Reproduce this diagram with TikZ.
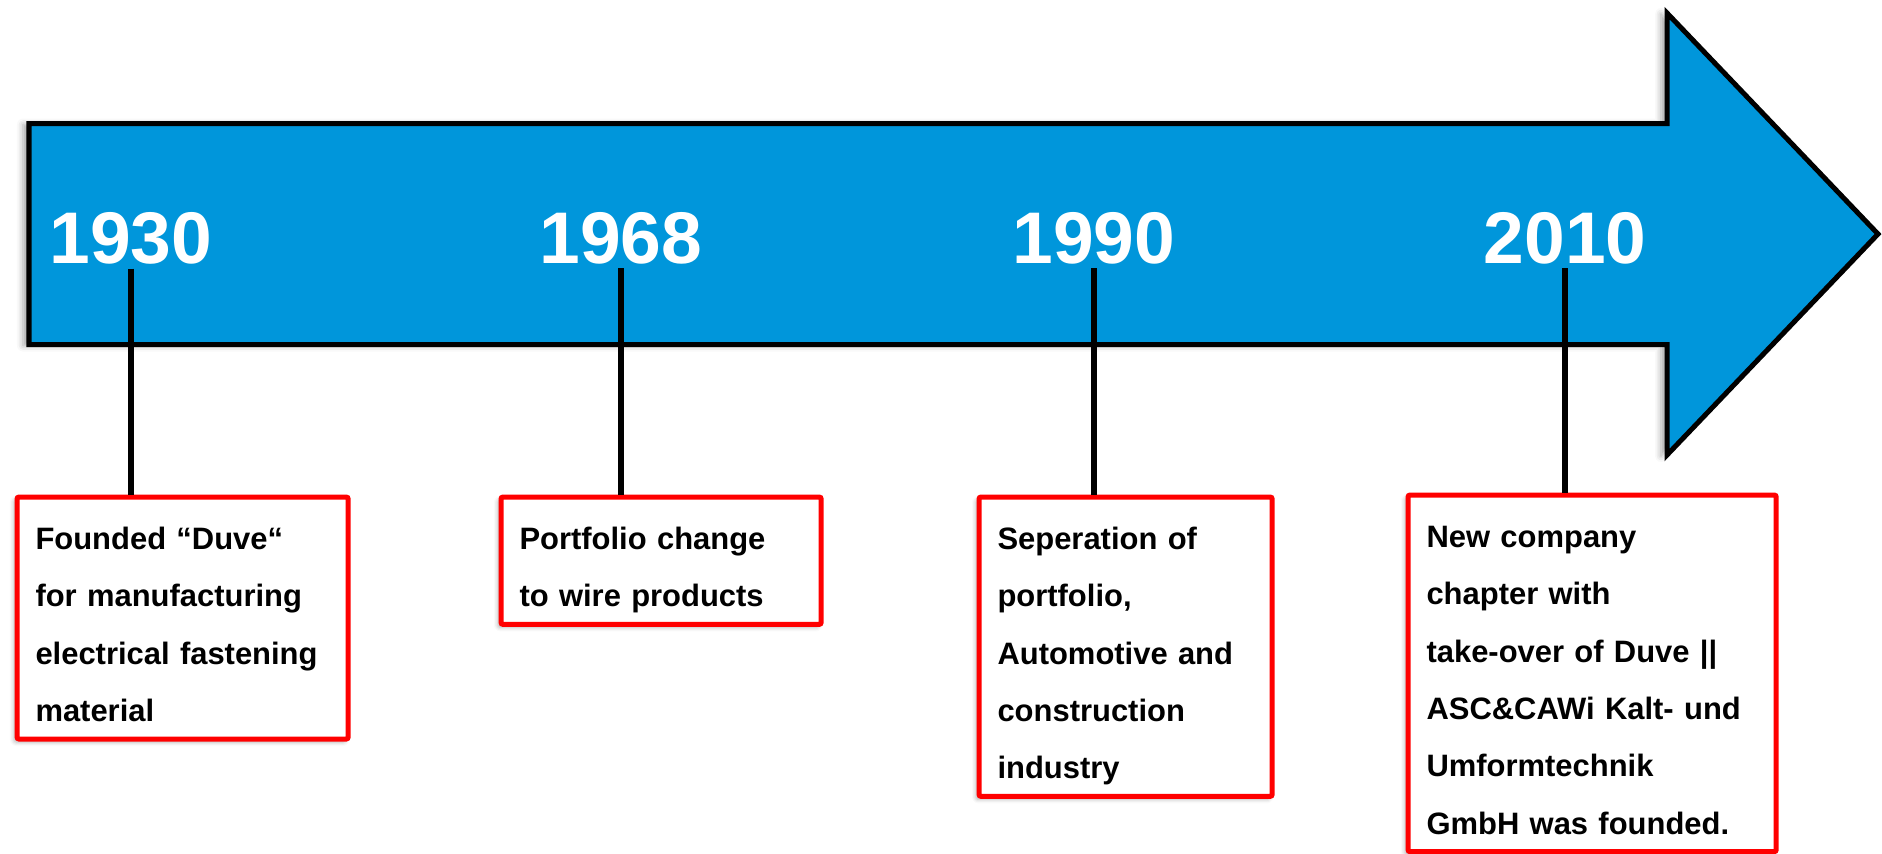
\documentclass[tikz,border=0pt]{standalone}
\usepackage{fontspec}
\setmainfont{Liberation Sans}
\usepackage{tikz}
\usetikzlibrary{shadows.blur}
\definecolor{timeblue}{RGB}{0,150,219}
\definecolor{boxred}{RGB}{255,0,0}

\begin{document}
\begin{tikzpicture}[x=0.01cm,y=-0.01cm,
  year/.style={anchor=base,inner sep=0.04cm,text=white,
    font=\fontsize{20.8}{25}\selectfont\bfseries},
  event/.style={draw=boxred,line width=0.05cm,rounded corners=0.02cm,fill=white,
    anchor=north west,inner xsep=0.185cm,inner ysep=0cm,align=left,
    font=\fontsize{8.8}{16.3}\selectfont\bfseries,
    blur shadow={shadow xshift=-0.03cm,shadow yshift=-0.03cm,shadow blur radius=0.04cm,shadow opacity=30},
    execute at begin node=\rule{0pt}{0.525cm},
    execute at end node=\rule[-0.175cm]{0pt}{0pt}},
  stem/.style={line width=0.06cm}]
  \useasboundingbox (0,0) rectangle (1882,853);
  \draw[fill=timeblue,line width=0.05cm,line join=miter,
    blur shadow={shadow xshift=-0.06cm,shadow yshift=-0.01cm,shadow blur radius=0.06cm,shadow opacity=35}]
    (29,123.5) -- (1667,123.5) -- (1667,13) -- (1878,234) -- (1667,455)
    -- (1667,344.5) -- (29,344.5) -- cycle;
  \foreach \yr/\x/\n in {1930/131/1,1968/621/2,1990/1094/3,2010/1565/4}
    \node[year] (y\n) at (\x,263) {\yr};
  \node[event,text width=2.94cm] (b1) at (14.5,494.5)
    {Founded “Duve“\\for manufacturing\\electrical fastening\\material};
  \node[event,text width=2.83cm] (b2) at (498.5,494.5)
    {Portfolio change\\to wire products};
  \node[event,text width=2.56cm] (b3) at (976.5,494.5)
    {Seperation of\\portfolio,\\Automotive and\\construction\\industry};
  \node[event,text width=3.31cm] (b4) at (1405.5,492.5)
    {New company\\chapter with\\take-over of Duve ||\\ASC\&CAWi Kalt- und\\Umformtechnik\\GmbH was founded.};
  \foreach \n in {1,2,3,4}
    \draw[stem] (y\n.south) -- (y\n.south |- b\n.north);
\end{tikzpicture}
\end{document}
